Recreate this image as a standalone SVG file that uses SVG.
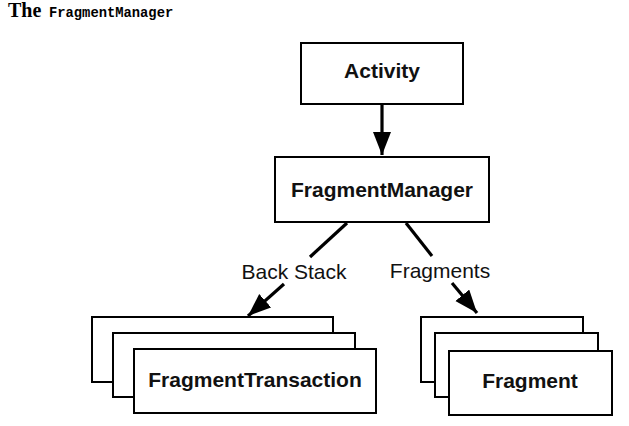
<svg xmlns="http://www.w3.org/2000/svg" width="629" height="426" viewBox="0 0 629 426">
<style>
.box{fill:#fff;stroke:#000;stroke-width:2}
.lbl{font-family:"Liberation Sans",Arial,sans-serif;font-weight:bold;font-size:21px;fill:#111;text-anchor:middle}
.elbl{font-family:"Liberation Sans",Arial,sans-serif;font-size:21px;fill:#111;text-anchor:middle}
.edge{stroke:#000;stroke-width:3.2;fill:none}
</style>
<defs>
<marker id="ah" markerUnits="userSpaceOnUse" markerWidth="26" markerHeight="20" refX="23" refY="9" orient="auto">
<path d="M0,0 L23,9 L0,18 z" fill="#000"/>
</marker>
</defs>
<rect width="629" height="426" fill="#fff"/>
<g id="title">
<text x="8" y="17" font-family="'Liberation Serif','Times New Roman',serif" font-weight="bold" font-size="20">The</text>
<text x="49" y="17" font-family="'Liberation Mono','Courier New',monospace" font-weight="bold" font-size="13.8">FragmentManager</text>
</g>
<g id="connectors">
<line class="edge" x1="382" y1="104" x2="382" y2="155" marker-end="url(#ah)"/>
<line class="edge" x1="347" y1="223" x2="310" y2="257"/>
<line class="edge" x1="284" y1="284" x2="248" y2="316" marker-end="url(#ah)"/>
<line class="edge" x1="406" y1="223" x2="432" y2="256"/>
<line class="edge" x1="452" y1="283" x2="477" y2="313" marker-end="url(#ah)"/>
<text class="elbl" x="294" y="279">Back Stack</text>
<text class="elbl" x="440" y="278">Fragments</text>
</g>
<g id="activity">
<rect class="box" x="301" y="43" width="162" height="61"/>
<text class="lbl" x="382" y="78">Activity</text>
</g>
<g id="fragmentManager">
<rect class="box" x="275" y="157" width="214" height="65"/>
<text class="lbl" x="382" y="197">FragmentManager</text>
</g>
<g id="fragmentTransaction">
<rect class="box" x="92" y="317" width="241" height="65"/>
<rect class="box" x="113" y="333" width="242" height="64"/>
<rect class="box" x="134" y="349" width="242" height="64"/>
<text class="lbl" x="255" y="387">FragmentTransaction</text>
</g>
<g id="fragment">
<rect class="box" x="421" y="317" width="162" height="65"/>
<rect class="box" x="435" y="333" width="163" height="64"/>
<rect class="box" x="449" y="351" width="163" height="64"/>
<text class="lbl" x="530" y="388">Fragment</text>
</g>
</svg>
